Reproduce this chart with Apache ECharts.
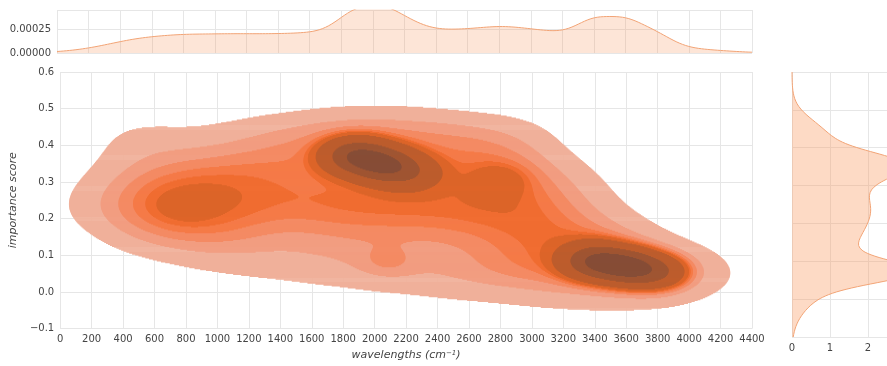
<!DOCTYPE html>
<html>
<head>
<meta charset="utf-8">
<script src="https://cdn.jsdelivr.net/npm/echarts@6/dist/echarts.min.js"></script>
<style>
  html, body { margin: 0; padding: 0; background: #fff; }
  #chart { width: 887px; height: 366px; }
</style>
</head>
<body>
<div id="chart"></div>
<script>
// broad samples: wavelengths (columns), scores (rows), weight per point
const sampleWave = [200, 500, 800, 1100, 1400, 1700, 2000, 2300, 2600, 2900, 3200, 3500, 3800, 4100];
const sampleScore = [-0.05, 0, 0.05, 0.1, 0.15, 0.2, 0.25, 0.3, 0.35, 0.4, 0.45, 0.5];
const sampleWeight = [
  [0, 0, 0, 0, 0, 0, 0, 0.1, 0.2, 0.3, 0.4, 0.45, 0.4, 0.15],
  [0, 0, 0, 0, 0.2, 0.4, 0.5, 0.7, 0.9, 1.0, 1.6, 1.9, 1.8, 0.8],
  [0, 0, 0.2, 0.7, 0.9, 1.1, 1.3, 1.8, 2.2, 2.8, 3.2, 2.2, 2.2, 1.9],
  [0, 0.3, 1.1, 1.6, 1.3, 1.7, 2.1, 1.3, 1.7, 2.9, 3.4, 2.8, 2.3, 0.9],
  [0, 2.0, 3.0, 2.5, 1.5, 2.0, 2.1, 2.0, 2.4, 3.0, 3.4, 3.0, 0.6, 0],
  [0.9, 3.4, 3.4, 3.3, 2.4, 2.9, 3.0, 3.0, 3.0, 3.3, 3.2, 1.2, 0, 0],
  [1.2, 3.6, 3.6, 3.4, 2.9, 3.3, 3.3, 3.3, 3.3, 3.6, 2.6, 0.4, 0, 0],
  [0.5, 3.0, 3.6, 3.3, 2.8, 2.6, 2.6, 2.7, 2.9, 3.7, 2.0, 0.1, 0, 0],
  [0.2, 1.7, 2.3, 2.8, 2.8, 2.6, 2.6, 2.6, 2.9, 3.2, 0.8, 0, 0, 0],
  [0, 1.8, 1.1, 1.6, 2.4, 2.5, 2.5, 2.5, 2.7, 2.5, 0, 0, 0, 0],
  [0, 1.3, 0.2, 1.0, 1.7, 2.5, 2.8, 2.5, 2.0, 1.4, 0, 0, 0, 0],
  [0, 0, 0, 0, 0, 0.3, 0.5, 0.3, 0, 0, 0, 0, 0, 0]
];
// tight clusters
const peakWave = [1880, 2060, 2220, 3400, 3600, 3790, 800, 2800, 2080];
const peakScore = [0.372, 0.348, 0.325, 0.085, 0.07, 0.055, 0.228, 0.31, 0.08];
const peakWeight = [40, 40, 16, 40, 46, 25, 1, 3, 3];

// kde settings
const bwWave = 240, bwScore = 0.042;
const peakBwWave = 130, peakBwScore = 0.03;
const margBwScale = 0.85;
const isoProps = [0.05, 0.1556, 0.2611, 0.3667, 0.4722, 0.5778, 0.6833, 0.7889, 0.8944, 1];
const bandColors = ['#f0b09a', '#f29d80', '#f48a63', '#f57a47', '#f06c30', '#dc6428', '#bd5c2c', '#9f5532', '#864d36'];

const xMin = 0, xMax = 4400, yMin = -0.1, yMax = 0.6;
const nx = 550, ny = 265;
const dx = (xMax - xMin) / nx, dy = (yMax - yMin) / ny;
const gx = [], gy = [];
for (let i = 0; i < nx; i++) gx.push(xMin + (i + 0.5) * dx);
for (let j = 0; j < ny; j++) gy.push(yMin + (j + 0.5) * dy);

// all weighted points: [wave, score, weight, bwWave, bwScore]
const pts = [];
sampleScore.forEach((sy, r) => sampleWave.forEach((sx, c) => {
  if (sampleWeight[r][c] > 0) pts.push([sx, sy, sampleWeight[r][c], bwWave, bwScore]);
}));
peakWave.forEach((sx, k) => pts.push([sx, peakScore[k], peakWeight[k], peakBwWave, peakBwScore]));

const dens = new Float64Array(nx * ny);
pts.forEach(([sx, sy, w, bx, by]) => {
  const ex = gx.map(x => w * Math.exp(-0.5 * ((x - sx) / bx) ** 2));
  const ey = gy.map(y => Math.exp(-0.5 * ((y - sy) / by) ** 2));
  for (let j = 0; j < ny; j++) {
    if (ey[j] < 1e-7) continue;
    for (let i = 0; i < nx; i++) dens[j * nx + i] += ex[i] * ey[j];
  }
});

// iso-proportion levels, like seaborn
const sorted = Array.from(dens).sort((a, b) => b - a);
const total = sorted.reduce((a, b) => a + b, 0);
const cum = [];
let acc = 0;
sorted.forEach(v => { acc += v; cum.push(acc / total); });
const levels = isoProps.map(q => {
  let k = cum.findIndex(c => c >= 1 - q);
  if (k < 0) k = sorted.length - 1;
  return sorted[k];
});

// runs per row, nested by band, with edges placed where the density crosses the level
const bandRuns = [];
for (let k = 0; k < bandColors.length; k++) {
  const lev = levels[k];
  for (let j = 0; j < ny; j++) {
    const row = j * nx;
    let start = null;
    for (let i = 0; i <= nx; i++) {
      const inside = i < nx && dens[row + i] >= lev;
      if (inside && start === null) {
        if (i === 0) start = xMin;
        else {
          const a = dens[row + i - 1], b = dens[row + i];
          start = gx[i - 1] + (lev - a) / (b - a) * dx;
        }
      }
      if (!inside && start !== null) {
        let end;
        if (i === nx) end = xMax;
        else {
          const a = dens[row + i - 1], b = dens[row + i];
          end = gx[i - 1] + (a - lev) / (a - b) * dx;
        }
        bandRuns.push([start, end, gy[j], k]);
        start = null;
      }
    }
  }
}

// marginal kdes
const mass = pts.map(p => p[2] * p[3] * p[4]);
const sumMass = mass.reduce((a, b) => a + b, 0);
const margWave = [];
for (let x = xMin; x <= xMax; x += 20) {
  let d = 0;
  pts.forEach((p, k) => {
    const b = p[3] * margBwScale;
    d += mass[k] * Math.exp(-0.5 * ((x - p[0]) / b) ** 2) / (b * Math.sqrt(2 * Math.PI));
  });
  margWave.push([x, d / sumMass]);
}
const margScore = [];
for (let y = yMin; y <= yMax + 1e-9; y += 0.0035) {
  let d = 0;
  pts.forEach((p, k) => {
    const b = p[4] * margBwScale;
    d += mass[k] * Math.exp(-0.5 * ((y - p[1]) / b) ** 2) / (b * Math.sqrt(2 * Math.PI));
  });
  margScore.push([d / sumMass, y]);
}

const font = 'DejaVu Sans';
const textColor = '#444';
const gridColor = '#e6e6e6';
const margLine = '#f2a476';
const margFill = 'rgba(248, 150, 90, 0.35)';

const axisCommon = {
  type: 'value',
  axisLine: { show: false },
  axisTick: { show: false },
  splitLine: { show: true, lineStyle: { color: gridColor, width: 1 } },
  axisLabel: { fontFamily: font, fontSize: 10, color: textColor }
};

const chart = echarts.init(document.getElementById('chart'));
chart.setOption({
  animation: false,
  grid: [
    { left: 57, top: 72, width: 695, height: 265 },
    { left: 57, top: 10, width: 695, height: 43 },
    { left: 792, top: 72, width: 103, height: 265 }
  ],
  xAxis: [
    Object.assign({}, axisCommon, {
      gridIndex: 0, min: xMin, max: xMax, interval: 200,
      axisLabel: { fontFamily: font, fontSize: 10, color: textColor, margin: 6, formatter: v => String(v) },
      name: 'wavelengths (cm{sup|−1})',
      nameLocation: 'middle', nameGap: 20,
      nameTextStyle: {
        fontFamily: font, fontSize: 11, fontStyle: 'italic', color: textColor,
        rich: { sup: { fontFamily: font, fontSize: 7, color: textColor, verticalAlign: 'top', lineHeight: 12 } }
      }
    }),
    Object.assign({}, axisCommon, {
      gridIndex: 1, min: xMin, max: xMax, interval: 200,
      axisLabel: { show: false }
    }),
    Object.assign({}, axisCommon, {
      gridIndex: 2, min: 0, max: 2.5, interval: 1,
      axisLabel: { fontFamily: font, fontSize: 10, color: textColor, margin: 6, showMaxLabel: false }
    })
  ],
  yAxis: [
    Object.assign({}, axisCommon, {
      gridIndex: 0, min: yMin, max: yMax, interval: 0.1,
      axisLabel: {
        fontFamily: font, fontSize: 10, color: textColor, margin: 6,
        formatter: v => (v < -1e-9 ? '−' : '') + Math.abs(v).toFixed(1)
      },
      name: 'importance score',
      nameLocation: 'middle', nameGap: 35, nameRotate: 90,
      nameTextStyle: { fontFamily: font, fontSize: 11, fontStyle: 'italic', color: textColor }
    }),
    Object.assign({}, axisCommon, {
      gridIndex: 1, min: 0, max: 0.00045, interval: 0.00025,
      axisLabel: {
        fontFamily: font, fontSize: 10, color: textColor, margin: 6, showMaxLabel: false,
        formatter: v => v.toFixed(5)
      }
    }),
    Object.assign({}, axisCommon, {
      gridIndex: 2, min: yMin, max: yMax, interval: 0.1,
      axisLabel: { show: false }
    })
  ],
  series: [
    {
      type: 'custom',
      xAxisIndex: 0, yAxisIndex: 0,
      clip: true,
      progressive: 0,
      silent: true,
      data: bandRuns,
      renderItem: (params, api) => {
        const a = api.coord([api.value(0), api.value(2) + dy / 2]);
        const b = api.coord([api.value(1), api.value(2) - dy / 2]);
        return {
          type: 'rect',
          shape: { x: a[0], y: a[1], width: b[0] - a[0], height: b[1] - a[1] + 0.6 },
          style: { fill: bandColors[api.value(3)] }
        };
      }
    },
    {
      type: 'line',
      xAxisIndex: 1, yAxisIndex: 1,
      data: margWave,
      symbol: 'none',
      lineStyle: { color: margLine, width: 1 },
      areaStyle: { color: margFill }
    },
    {
      type: 'custom',
      xAxisIndex: 2, yAxisIndex: 2,
      clip: true,
      silent: true,
      data: [0],
      renderItem: (params, api) => {
        const poly = [api.coord([0, margScore[0][1]])];
        margScore.forEach(p => poly.push(api.coord(p)));
        poly.push(api.coord([0, margScore[margScore.length - 1][1]]));
        return { type: 'polygon', shape: { points: poly }, style: { fill: margFill } };
      }
    },
    {
      type: 'line',
      xAxisIndex: 2, yAxisIndex: 2,
      data: margScore,
      symbol: 'none',
      clip: true,
      lineStyle: { color: margLine, width: 1 }
    }
  ]
});
</script>
</body>
</html>
